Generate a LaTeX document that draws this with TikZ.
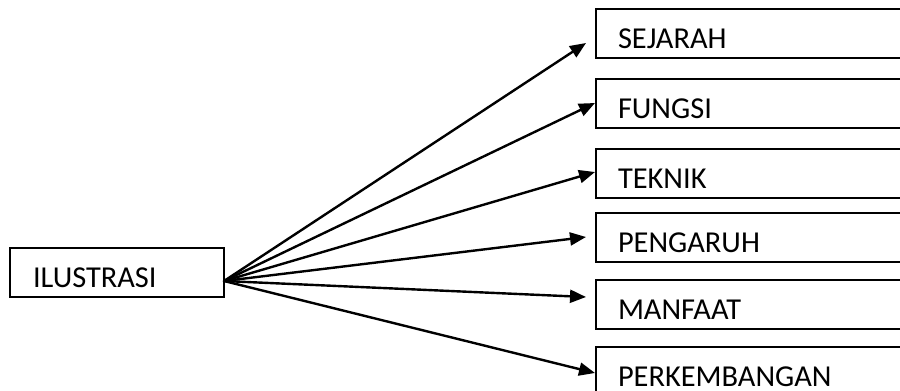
\documentclass[tikz,border=0pt]{standalone}
\usepackage{fontspec}
\setmainfont{Carlito}
\usetikzlibrary{arrows.meta}
\begin{document}
\begin{tikzpicture}[x = 0.5pt, y = -0.5pt, style={line cap = round},
  box/.style={anchor = north west, outer sep = 0pt, inner xsep = 11pt, inner ysep = 0pt,
    text height = 19.5pt, text depth = 5pt, align = left, text width = 200pt, font = \fontsize{15.2}{18}\selectfont},
  frame/.style={line width = 0.9pt, line cap = butt},
  link/.style={line width = 1.2pt, -{Triangle[length = 8pt, width = 6.5pt]}}]
  \useasboundingbox (0,0) rectangle (900,391);
  \clip (0,0) rectangle (900,391);

  \node[box, draw, line width = 0.9pt, text width = 84pt, inner xsep = 11.5pt] (ilustrasi) at (10,248) {ILUSTRASI};
  \coordinate (src) at (224,281);

  \node[box] (sejarah) at (596,9) {SEJARAH};
  \node[box] (fungsi) at (596,79) {FUNGSI};
  \node[box] (teknik) at (596,149) {TEKNIK};
  \node[box] (pengaruh) at (596,213) {PENGARUH};
  \node[box] (manfaat) at (596,280) {MANFAAT};
  \node[box] (perkembangan) at (596,347) {PERKEMBANGAN};

  \draw[frame] (sejarah.north east) -- (sejarah.north west) -- (sejarah.south west) -- (sejarah.south east);
  \draw[frame] (fungsi.north east) -- (fungsi.north west) -- (fungsi.south west) -- (fungsi.south east);
  \draw[frame] (teknik.north east) -- (teknik.north west) -- (teknik.south west) -- (teknik.south east);
  \draw[frame] (pengaruh.north east) -- (pengaruh.north west) -- (pengaruh.south west) -- (pengaruh.south east);
  \draw[frame] (manfaat.north east) -- (manfaat.north west) -- (manfaat.south west) -- (manfaat.south east);
  \draw[frame] (perkembangan.north east) -- (perkembangan.north west) -- (perkembangan.south west) -- (perkembangan.south east);

  \coordinate (tipsejarah) at (586,43);
  \coordinate (tipfungsi) at (595,103);
  \coordinate (tipteknik) at (595,172);
  \coordinate (tippengaruh) at (586,237);
  \coordinate (tipmanfaat) at (586,297);
  \coordinate (tipperkembangan) at (595,373);

  \draw[link] (src) -- (tipsejarah);
  \draw[link] (src) -- (tipfungsi);
  \draw[link] (src) -- (tipteknik);
  \draw[link] (src) -- (tippengaruh);
  \draw[link] (src) -- (tipmanfaat);
  \draw[link] (src) -- (tipperkembangan);

\end{tikzpicture}
\end{document}
